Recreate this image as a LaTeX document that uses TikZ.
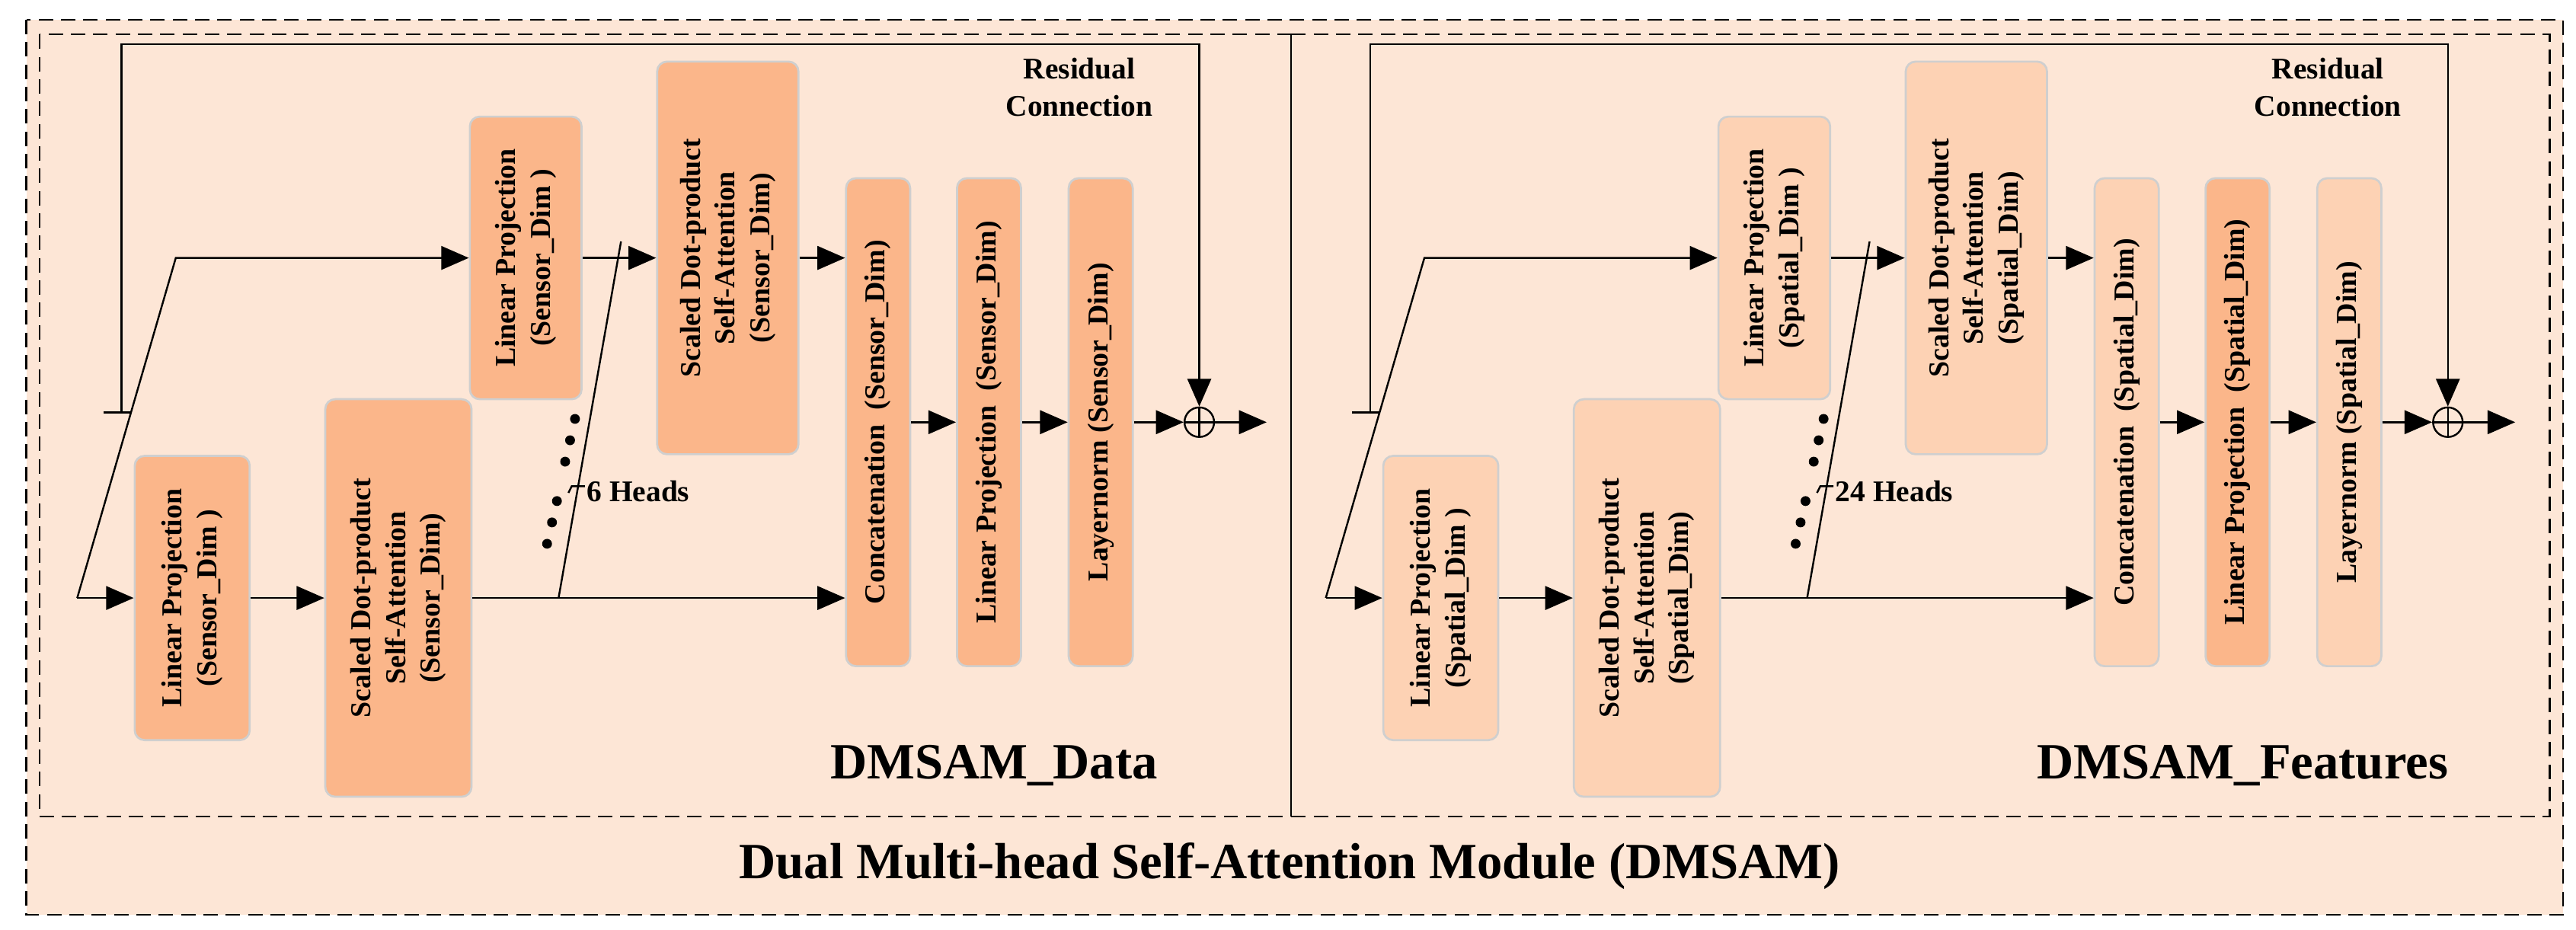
\documentclass[tikz,border=0pt]{standalone}
\usepackage{fontspec}
\setmainfont{Liberation Serif}
\usetikzlibrary{arrows.meta}
\definecolor{bgc}{HTML}{FDE6D6}
\definecolor{boxA}{HTML}{FBB68A}
\definecolor{boxB}{HTML}{FDD2B4}
\definecolor{bord}{HTML}{CFCFCF}
\tikzset{
  box/.style={rectangle,rounded corners=1.5mm,draw=bord,line width=0.9pt,inner sep=0pt},
  lbl/.style={rotate=90,align=center,font=\fontsize{12.5}{15}\selectfont\bfseries,inner sep=0pt},
  arr/.style={line width=0.8pt,-{Triangle[length=4.2mm,width=3.6mm]}},
  ln/.style={line width=0.8pt},
  dot/.style={circle,fill=black,inner sep=0pt,minimum size=1.5mm},
  big/.style={font=\fontsize{22}{26}\selectfont\bfseries},
  dashbox/.style={line width=0.7pt,dash pattern=on 2.2mm off 1.2mm}
}
\newcommand\dmpanel[7]{%
\begin{scope}[xshift=#2*0.25mm]
  \node[box,fill=#5,minimum width=17.5mm,minimum height=43.25mm] (#1lpa) at (117,364) {};
  \node[lbl] at (#1lpa) {Linear Projection\\(#3 )};
  \node[box,fill=#5,minimum width=22.25mm,minimum height=60.5mm] (#1sda) at (242.5,364) {};
  \node[lbl] at (#1sda) {Scaled Dot-product\\Self-Attention\\(#3)};
  \node[box,fill=#5,minimum width=17mm,minimum height=43mm] (#1lpb) at (320,157) {};
  \node[lbl] at (#1lpb) {Linear Projection\\(#3 )};
  \node[box,fill=#5,minimum width=21.5mm,minimum height=59.75mm] (#1sdb) at (443,157) {};
  \node[lbl] at (#1sdb) {Scaled Dot-product\\Self-Attention\\(#3)};
  \node[box,fill=#5,minimum width=9.75mm,minimum height=74.25mm] (#1cc) at (534.5,257) {};
  \node[lbl] at (#1cc) {Concatenation~~(#3)};
  \node[box,fill=#7,minimum width=9.75mm,minimum height=74.25mm] (#1lpc) at (602,257) {};
  \node[lbl] at (#1lpc) {Linear Projection~~(#3)};
  \node[box,fill=#5,minimum width=9.75mm,minimum height=74.25mm] (#1lnm) at (670,257) {};
  \node[lbl] at (#1lnm) {Layernorm (#3)};
  \node[circle,draw,line width=0.8pt,minimum size=4.5mm,inner sep=0pt] (#1plus) at (730,257) {};
  \draw[ln] (#1plus.north) -- (#1plus.south) (#1plus.west) -- (#1plus.east);
  \coordinate (#1in) at (47,364);
  \coordinate (#1k) at (107,157);
  \coordinate (#1r) at (74,251);
  \coordinate (#1rt) at (74,27);
  \coordinate (#1out) at (771,257);
  \coordinate (#1da) at (340,364);
  \coordinate (#1db) at (378,147);
  \draw[arr] (#1in) -- (#1in -| #1lpa.west);
  \draw[arr] (#1in) -- (#1k) -- (#1k -| #1lpb.west);
  \draw[ln] (63,251) -- (80,251);
  \draw[arr] (#1r) -- (#1rt) -| (#1plus.north);
  \draw[arr] (#1lpa.east) -- (#1lpa.east -| #1sda.west);
  \draw[arr] (#1sda.east) -- (#1sda.east -| #1cc.west);
  \draw[ln] (#1da) -- (#1db);
  \draw[arr] (#1lpb.east) -- (#1lpb.east -| #1sdb.west);
  \draw[arr] (#1sdb.east) -- (#1sdb.east -| #1cc.west);
  \draw[arr] (#1cc.east) -- (#1lpc.west);
  \draw[arr] (#1lpc.east) -- (#1lnm.west);
  \draw[arr] (#1lnm.east) -- (#1plus.west);
  \draw[arr] (#1plus.east) -- (#1out);
  \foreach \p in {(333,331),(336,318),(339,305),(344,281),(347,268),(350,255)} \node[dot] at \p {};
  \draw[ln] (346,300) -- (348,296) -- (356,296);
  \node[anchor=west,font=\fontsize{13}{15}\selectfont\bfseries,inner sep=0pt] (#1hd) at (357,299) {#4};
  \node[align=center,font=\fontsize{13}{16}\selectfont\bfseries] (#1res) at (657,53) {Residual\\Connection};
  \node[big] (#1ttl) at (605,466) {#6};
\end{scope}}
\begin{document}
\begin{tikzpicture}[x=0.25mm,y=-0.25mm]
\useasboundingbox (0,0) rectangle (1568,566);
\fill[white] (0,0) rectangle (1568,566);
\draw[dashbox,fill=bgc] (16,12) rectangle (1560,557);
\draw[dashbox] (24,21) rectangle (786,497);
\draw[dashbox] (786,21) rectangle (1552,497);
\dmpanel{L}{0}{Sensor\_Dim}{6 Heads}{boxA}{DMSAM\_Data}{boxA}
\dmpanel{R}{760}{Spatial\_Dim}{24 Heads}{boxB}{DMSAM\_Features}{boxA}
\node[big] (title) at (785,527) {Dual Multi-head Self-Attention Module (DMSAM)};
\end{tikzpicture}
\end{document}
